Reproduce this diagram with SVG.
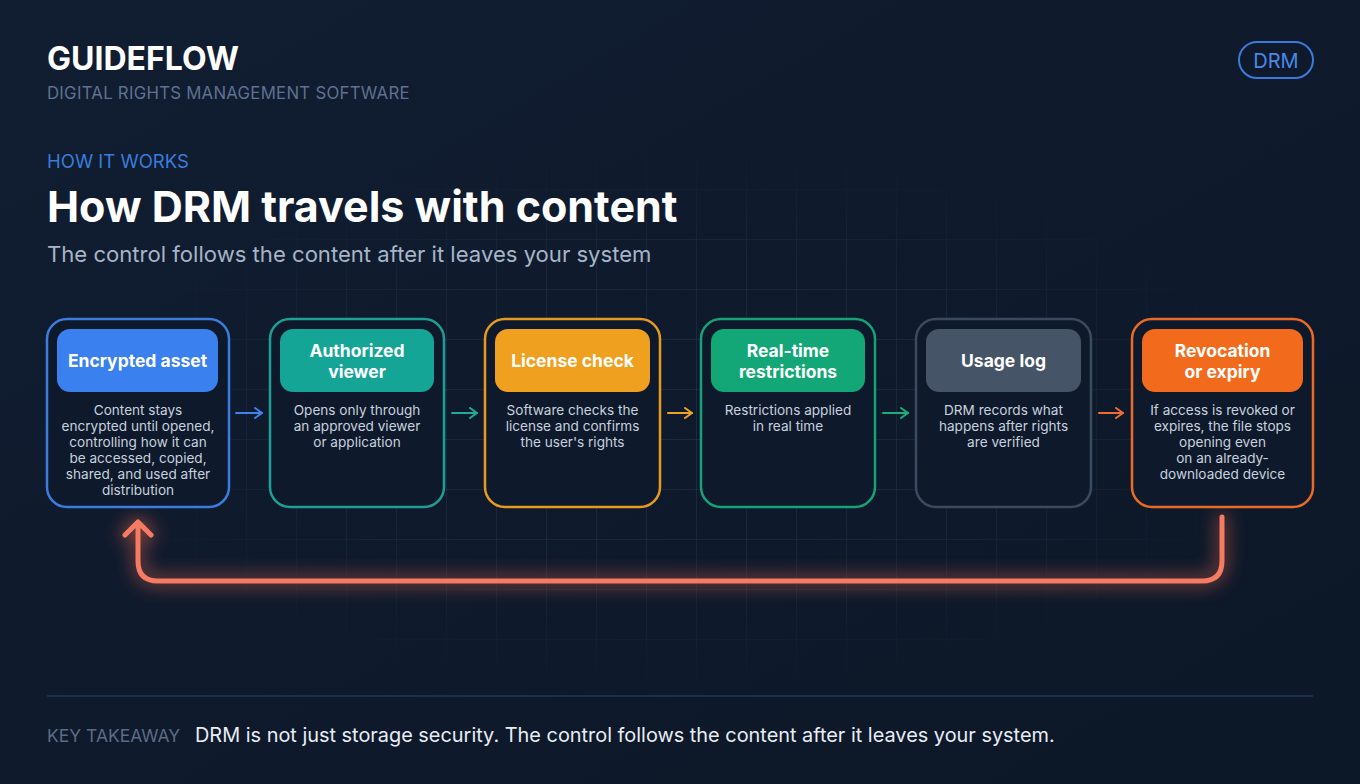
<svg xmlns="http://www.w3.org/2000/svg" width="1360" height="784" viewBox="0 0 1360 784">
  <defs>
    <linearGradient id="bg" x1="0" y1="0" x2="1" y2="1">
      <stop offset="0" stop-color="#111d31"/>
      <stop offset="1" stop-color="#0c1727"/>
    </linearGradient>
    <pattern id="grid" x="47" y="40" width="50" height="50" patternUnits="userSpaceOnUse">
      <path d="M50 0 V50 M0 50 H50" fill="none" stroke="#2d3f5c" stroke-width="1"/>
    </pattern>
    <radialGradient id="fade" cx="680" cy="420" r="620" gradientUnits="userSpaceOnUse" gradientTransform="translate(680 420) scale(1 0.45) translate(-680 -420)">
      <stop offset="0" stop-color="#fff" stop-opacity="0.95"/>
      <stop offset="0.6" stop-color="#fff" stop-opacity="0.6"/>
      <stop offset="1" stop-color="#fff" stop-opacity="0"/>
    </radialGradient>
    <mask id="gridMask">
      <rect width="1360" height="784" fill="url(#fade)"/>
    </mask>
    <filter id="glow" x="-20%" y="-50%" width="140%" height="200%">
      <feGaussianBlur stdDeviation="9"/>
    </filter>
    <marker id="chev-blue" viewBox="0 0 12 12" refX="10" refY="6" markerWidth="12" markerHeight="12" markerUnits="userSpaceOnUse" orient="auto">
      <path d="M3 1 L10 6 L3 11" fill="none" stroke="#3f83ec" stroke-width="2" stroke-linecap="round" stroke-linejoin="round"/>
    </marker>
    <marker id="chev-teal" viewBox="0 0 12 12" refX="10" refY="6" markerWidth="12" markerHeight="12" markerUnits="userSpaceOnUse" orient="auto">
      <path d="M3 1 L10 6 L3 11" fill="none" stroke="#1faa9c" stroke-width="2" stroke-linecap="round" stroke-linejoin="round"/>
    </marker>
    <marker id="chev-amber" viewBox="0 0 12 12" refX="10" refY="6" markerWidth="12" markerHeight="12" markerUnits="userSpaceOnUse" orient="auto">
      <path d="M3 1 L10 6 L3 11" fill="none" stroke="#eea124" stroke-width="2" stroke-linecap="round" stroke-linejoin="round"/>
    </marker>
    <marker id="chev-green" viewBox="0 0 12 12" refX="10" refY="6" markerWidth="12" markerHeight="12" markerUnits="userSpaceOnUse" orient="auto">
      <path d="M3 1 L10 6 L3 11" fill="none" stroke="#19b07f" stroke-width="2" stroke-linecap="round" stroke-linejoin="round"/>
    </marker>
    <marker id="chev-orange" viewBox="0 0 12 12" refX="10" refY="6" markerWidth="12" markerHeight="12" markerUnits="userSpaceOnUse" orient="auto">
      <path d="M3 1 L10 6 L3 11" fill="none" stroke="#ee6c32" stroke-width="2" stroke-linecap="round" stroke-linejoin="round"/>
    </marker>
    <style>
      text { font-family: Inter, "Noto Sans", "Liberation Sans", sans-serif; }
      .card { fill: #0e1a2c; stroke-width: 2.5; }
      .pill-text { fill: #ffffff; font-size: 17.5px; font-weight: 700; text-anchor: middle; }
      .body { fill: #c8d1de; font-size: 13.6px; text-anchor: middle; }
      .flow { fill: none; stroke-width: 2; stroke-linecap: round; }
    </style>
  </defs>

  <rect width="1360" height="784" fill="url(#bg)"/>
  <rect width="1360" height="784" fill="url(#grid)" mask="url(#gridMask)"/>

  <g id="header">
    <text x="47" y="70" font-size="32" font-weight="700" fill="#ffffff">GUIDEFLOW</text>
    <text x="47" y="99" font-size="16.8" fill="#5f7191" letter-spacing="0.25">DIGITAL RIGHTS MANAGEMENT SOFTWARE</text>
    <rect x="1239" y="42" width="74" height="36" rx="18" fill="none" stroke="#3a7bdc" stroke-width="2"/>
    <text x="1276" y="67.5" font-size="20" fill="#4a89e6" text-anchor="middle">DRM</text>
    <text x="47" y="168" font-size="18.5" fill="#3a7ddc">HOW IT WORKS</text>
    <text x="47" y="222" font-size="43" font-weight="700" fill="#ffffff">How DRM travels with content</text>
    <text x="47" y="262" font-size="22.1" fill="#a7b5c8">The control follows the content after it leaves your system</text>
  </g>

  <g id="connectors">
    <path class="flow" d="M236 413 H262" stroke="#3f83ec" marker-end="url(#chev-blue)"/>
    <path class="flow" d="M452 413 H477" stroke="#1faa9c" marker-end="url(#chev-teal)"/>
    <path class="flow" d="M668 413 H692" stroke="#eea124" marker-end="url(#chev-amber)"/>
    <path class="flow" d="M883 413 H908" stroke="#19b07f" marker-end="url(#chev-green)"/>
    <path class="flow" d="M1099 413 H1123" stroke="#ee6c32" marker-end="url(#chev-orange)"/>
    <g id="loop">
      <path d="M1222 517 V561 Q1222 581 1202 581 H158 Q138 581 138 561 V522 M125 535 L138 522 L151 535" fill="none" stroke="#f26a4f" stroke-width="10" stroke-linecap="round" stroke-linejoin="round" opacity="0.55" filter="url(#glow)"/>
      <path d="M1222 517 V561 Q1222 581 1202 581 H158 Q138 581 138 561 V522 M125 535 L138 522 L151 535" fill="none" stroke="#f57b63" stroke-width="5" stroke-linecap="round" stroke-linejoin="round"/>
    </g>
  </g>

  <g id="node-encrypted">
    <rect class="card" x="47" y="319" width="182" height="188" rx="20" stroke="#3b7ddf"/>
    <rect x="57" y="329" width="161" height="63" rx="13" fill="#3a80ee"/>
    <text class="pill-text" x="137.5" y="367">Encrypted asset</text>
    <text class="body" x="138" y="415">Content stays</text>
    <text class="body" x="138" y="431">encrypted until opened,</text>
    <text class="body" x="138" y="447">controlling how it can</text>
    <text class="body" x="138" y="463">be accessed, copied,</text>
    <text class="body" x="138" y="479">shared, and used after</text>
    <text class="body" x="138" y="495">distribution</text>
  </g>

  <g id="node-viewer">
    <rect class="card" x="270" y="319" width="174" height="188" rx="20" stroke="#1e9f93"/>
    <rect x="280" y="329" width="154" height="63" rx="13" fill="#15a596"/>
    <text class="pill-text" x="357" y="357">Authorized</text>
    <text class="pill-text" x="357" y="378">viewer</text>
    <text class="body" x="357" y="415">Opens only through</text>
    <text class="body" x="357" y="431">an approved viewer</text>
    <text class="body" x="357" y="447">or application</text>
  </g>

  <g id="node-license">
    <rect class="card" x="485" y="319" width="175" height="188" rx="20" stroke="#e69a22"/>
    <rect x="495" y="329" width="155" height="63" rx="13" fill="#eea01e"/>
    <text class="pill-text" x="572.5" y="367">License check</text>
    <text class="body" x="572.5" y="415">Software checks the</text>
    <text class="body" x="572.5" y="431">license and confirms</text>
    <text class="body" x="572.5" y="447">the user's rights</text>
  </g>

  <g id="node-realtime">
    <rect class="card" x="701" y="319" width="174" height="188" rx="20" stroke="#16a177"/>
    <rect x="711" y="329" width="154" height="63" rx="13" fill="#13a676"/>
    <text class="pill-text" x="788" y="357">Real-time</text>
    <text class="pill-text" x="788" y="378">restrictions</text>
    <text class="body" x="788" y="415">Restrictions applied</text>
    <text class="body" x="788" y="431">in real time</text>
  </g>

  <g id="node-usage">
    <rect class="card" x="916" y="319" width="175" height="188" rx="20" stroke="#3c4a60"/>
    <rect x="926" y="329" width="155" height="63" rx="13" fill="#465467"/>
    <text class="pill-text" x="1003.5" y="367">Usage log</text>
    <text class="body" x="1003.5" y="415">DRM records what</text>
    <text class="body" x="1003.5" y="431">happens after rights</text>
    <text class="body" x="1003.5" y="447">are verified</text>
  </g>

  <g id="node-revocation">
    <rect class="card" x="1132" y="319" width="181" height="188" rx="20" stroke="#ea6b28"/>
    <rect x="1142" y="329" width="161" height="63" rx="13" fill="#f26b1d"/>
    <text class="pill-text" x="1222.5" y="357">Revocation</text>
    <text class="pill-text" x="1222.5" y="378">or expiry</text>
    <text class="body" x="1222.5" y="415">If access is revoked or</text>
    <text class="body" x="1222.5" y="431">expires, the file stops</text>
    <text class="body" x="1222.5" y="447">opening even</text>
    <text class="body" x="1222.5" y="463">on an already-</text>
    <text class="body" x="1222.5" y="479">downloaded device</text>
  </g>

  <g id="footer">
    <line x1="47" y1="696" x2="1313" y2="696" stroke="#1d2f4b" stroke-width="2"/>
    <text x="47" y="742" font-size="17.5" fill="#5c6c86">KEY TAKEAWAY</text>
    <text x="195" y="742" font-size="19.9" fill="#e8edf4">DRM is not just storage security. The control follows the content after it leaves your system.</text>
  </g>
</svg>
